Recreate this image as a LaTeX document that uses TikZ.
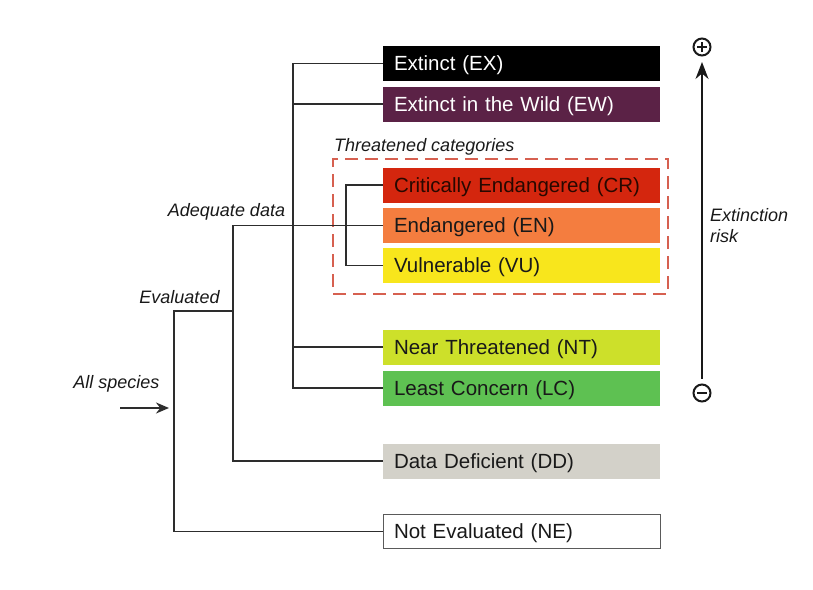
\documentclass[tikz,border=0pt]{standalone}
\usepackage{fontspec}
\setmainfont{Liberation Sans}
\usetikzlibrary{arrows.meta}

\definecolor{cEX}{RGB}{0,0,0}
\definecolor{cEW}{RGB}{91,34,70}
\definecolor{cCR}{RGB}{212,38,14}
\definecolor{cEN}{RGB}{244,125,63}
\definecolor{cVU}{RGB}{248,230,28}
\definecolor{cNT}{RGB}{205,224,42}
\definecolor{cLC}{RGB}{94,193,82}
\definecolor{cDD}{RGB}{211,209,201}
\definecolor{cline}{RGB}{45,45,45}
\definecolor{cdash}{RGB}{214,96,80}
\definecolor{ctext}{RGB}{25,25,25}

\tikzset{
  catbox/.style={rectangle, minimum width=277pt, minimum height=35pt,
    text width=255pt, inner xsep=11pt, inner ysep=0pt, align=left,
    text height=14.5pt, text depth=0pt,
    text=ctext, font=\fontsize{20.5}{24}\selectfont},
  tree/.style={draw=cline, line width=1.8pt},
  lab/.style={font=\fontsize{18}{21}\selectfont\itshape, text=ctext, inner sep=0pt},
  riskmark/.style={circle, draw=ctext, line width=2pt, minimum size=17pt, inner sep=0pt},
}

\begin{document}
\begin{tikzpicture}[x=1pt, y=-1pt]
  \useasboundingbox (0,0) rectangle (813,589);

  % threatened group frame
  \node (tbox) [draw=cdash, line width=2pt, dash pattern=on 13pt off 7pt,
    minimum width=335pt, minimum height=135pt, inner sep=0pt] at (500.5,226.5) {};
  \node (tlab) [lab, anchor=west] at (334,147) {Threatened categories};

  % category boxes
  \node (ex) [catbox, fill=cEX, text=white] at (521.5,63.5) {Extinct (EX)};
  \node (ew) [catbox, fill=cEW, text=white] at (521.5,104) {Extinct in the Wild (EW)};
  \node (cr) [catbox, fill=cCR, text={rgb,255:red,40;green,8;blue,0}] at (521.5,185) {Critically Endangered (CR)};
  \node (en) [catbox, fill=cEN] at (521.5,225.5) {Endangered (EN)};
  \node (vu) [catbox, fill=cVU] at (521.5,265.5) {Vulnerable (VU)};
  \node (nt) [catbox, fill=cNT] at (521.5,347) {Near Threatened (NT)};
  \node (lc) [catbox, fill=cLC] at (521.5,388) {Least Concern (LC)};
  \node (dd) [catbox, fill=cDD] at (521.5,461) {Data Deficient (DD)};
  \node (ne) [catbox, fill=white, draw={rgb,255:red,90;green,90;blue,90}, line width=1pt,
    minimum width=276pt, minimum height=34pt] at (521.5,531.5) {Not Evaluated (NE)};

  % branch junctions
  \coordinate (ev) at (174,311);
  \coordinate (adq) at (233,311);
  \coordinate (main) at (293,0);
  \coordinate (thr) at (346,0);
  \coordinate (start) at (120,408);
  \coordinate (entry) at (169,408);

  % tree of connectors
  \draw[tree] (ne.west) -| (ev) -- (adq);
  \draw[tree] (dd.west) -| (adq) |- (en.west);
  \draw[tree] (ex.west) -- (ex.west -| main) -- (lc.west -| main) -- (lc.west);
  \draw[tree] (ew.west) -- (ew.west -| main);
  \draw[tree] (nt.west) -- (nt.west -| main);
  \draw[tree] (cr.west) -- (cr.west -| thr) -- (vu.west -| thr) -- (vu.west);
  \draw[tree, -{Stealth[length=13pt, width=11pt]}] (start) -- (entry);

  % branch labels
  \node (lall) [lab] at (116.5,384) {All species};
  \node (leval) [lab] at (179.5,297) {Evaluated};
  \node (ladq) [lab] at (226.5,212) {Adequate data};

  % extinction risk scale
  \node (plus) [riskmark] at (702,47) {};
  \draw[draw=ctext, line width=2pt] ([xshift=-5pt]plus.center) -- ([xshift=5pt]plus.center)
    ([yshift=-5pt]plus.center) -- ([yshift=5pt]plus.center);
  \node (minus) [riskmark] at (702,393) {};
  \draw[draw=ctext, line width=2pt] ([xshift=-5pt]minus.center) -- ([xshift=5pt]minus.center);
  \draw[draw=ctext, line width=1.7pt, -{Stealth[length=17pt, width=13pt]},
    shorten <=5pt, shorten >=5.5pt] (minus) -- (plus);
  \node (risk) [lab, anchor=west, align=left] at (710,226) {Extinction\\risk};
\end{tikzpicture}
\end{document}
